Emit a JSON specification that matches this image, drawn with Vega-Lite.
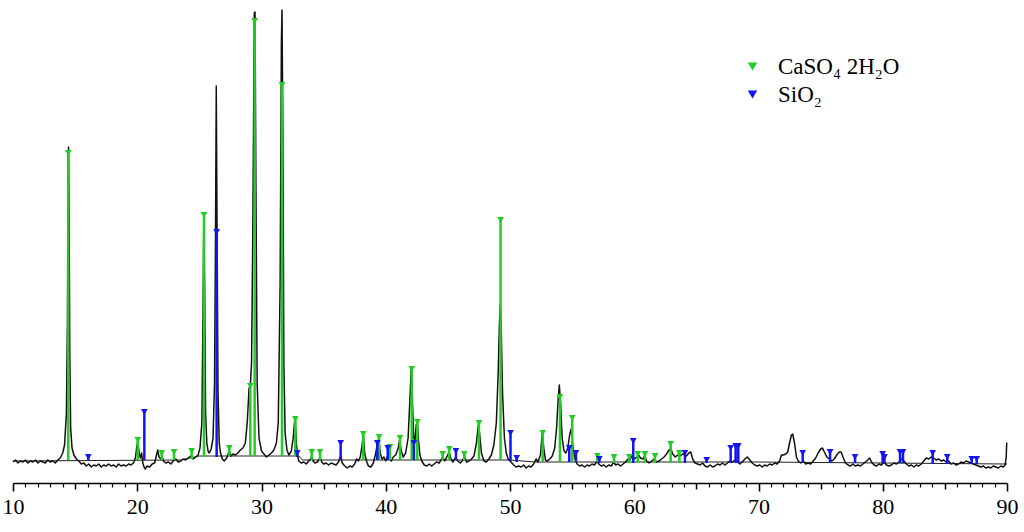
{
"$schema": "https://vega.github.io/schema/vega-lite/v6.json",
"width": 994,
"height": 483,
"autosize": {"type": "none"},
"padding": {"left": 13, "right": 17, "top": 0, "bottom": 49},
"background": "white",
"config": {"view": {"stroke": null}, "font": "Liberation Serif"},
"resolve": {"axis": {"x": "independent"}},
"datasets": {
"bg": [{"t":10,"i":22},{"t":23.5,"i":23},{"t":25,"i":27},{"t":33,"i":27},{"t":33.3,"i":23},{"t":50,"i":23},{"t":52,"i":21},{"t":60,"i":21},{"t":70,"i":21},{"t":80,"i":20},{"t":90,"i":19}],
"xrd": [
{"t":10.0,"i":21},{"t":10.2,"i":23},{"t":10.4,"i":20},{"t":10.6,"i":22},{"t":10.8,"i":21},{"t":11.0,"i":23},{"t":11.2,"i":20},{"t":11.4,"i":22},{"t":11.6,"i":21},{"t":11.8,"i":23},{"t":12.0,"i":20},{"t":12.2,"i":22},{"t":12.4,"i":21},{"t":12.6,"i":20},{"t":12.8,"i":23},{"t":13.0,"i":21},{"t":13.2,"i":22},{"t":13.4,"i":20},{"t":13.6,"i":23},{"t":13.8,"i":25},{"t":14.0,"i":30},{"t":14.15,"i":38},{"t":14.3,"i":70},{"t":14.38,"i":160},{"t":14.43,"i":300},{"t":14.47,"i":336},{"t":14.51,"i":280},{"t":14.57,"i":130},{"t":14.64,"i":55},{"t":14.75,"i":35},{"t":14.9,"i":28},{"t":15.1,"i":24},{"t":15.3,"i":22},{"t":15.5,"i":19},{"t":15.7,"i":20},{"t":15.9,"i":17},{"t":16.1,"i":19},{"t":16.3,"i":16},{"t":16.5,"i":18},{"t":16.7,"i":17},{"t":16.9,"i":19},{"t":17.1,"i":16},{"t":17.3,"i":18},{"t":17.5,"i":17},{"t":17.7,"i":19},{"t":17.9,"i":17},{"t":18.1,"i":18},{"t":18.3,"i":16},{"t":18.5,"i":19},{"t":18.7,"i":17},{"t":18.9,"i":18},{"t":19.1,"i":17},{"t":19.3,"i":19},{"t":19.5,"i":18},{"t":19.7,"i":20},{"t":19.85,"i":25},{"t":19.95,"i":35},{"t":20.05,"i":42},{"t":20.15,"i":30},{"t":20.25,"i":25},{"t":20.35,"i":30},{"t":20.45,"i":20},{"t":20.55,"i":16},{"t":20.65,"i":14},{"t":20.8,"i":17},{"t":21.0,"i":16},{"t":21.2,"i":19},{"t":21.4,"i":20},{"t":21.55,"i":28},{"t":21.65,"i":33},{"t":21.75,"i":26},{"t":21.9,"i":24},{"t":22.0,"i":27},{"t":22.1,"i":22},{"t":22.3,"i":20},{"t":22.5,"i":21},{"t":22.7,"i":19},{"t":22.9,"i":22},{"t":23.1,"i":24},{"t":23.3,"i":21},{"t":23.5,"i":22},{"t":23.7,"i":24},{"t":23.9,"i":23},{"t":24.1,"i":25},{"t":24.3,"i":27},{"t":24.5,"i":24},{"t":24.7,"i":26},{"t":24.9,"i":28},{"t":25.05,"i":35},{"t":25.2,"i":60},{"t":25.3,"i":180},{"t":25.36,"i":268},{"t":25.42,"i":200},{"t":25.5,"i":70},{"t":25.6,"i":40},{"t":25.7,"i":32},{"t":25.8,"i":30},{"t":25.95,"i":34},{"t":26.1,"i":45},{"t":26.22,"i":100},{"t":26.3,"i":250},{"t":26.36,"i":397},{"t":26.42,"i":260},{"t":26.5,"i":90},{"t":26.6,"i":40},{"t":26.7,"i":30},{"t":26.85,"i":24},{"t":27.0,"i":22},{"t":27.2,"i":25},{"t":27.4,"i":32},{"t":27.55,"i":27},{"t":27.7,"i":29},{"t":27.9,"i":28},{"t":28.1,"i":30},{"t":28.3,"i":33},{"t":28.5,"i":35},{"t":28.7,"i":40},{"t":28.85,"i":60},{"t":29.0,"i":95},{"t":29.1,"i":97},{"t":29.2,"i":120},{"t":29.3,"i":250},{"t":29.42,"i":470},{"t":29.48,"i":471},{"t":29.55,"i":300},{"t":29.65,"i":100},{"t":29.8,"i":45},{"t":30.0,"i":32},{"t":30.2,"i":29},{"t":30.4,"i":26},{"t":30.6,"i":28},{"t":30.8,"i":30},{"t":31.0,"i":33},{"t":31.2,"i":40},{"t":31.35,"i":60},{"t":31.5,"i":200},{"t":31.6,"i":440},{"t":31.65,"i":473},{"t":31.72,"i":350},{"t":31.8,"i":120},{"t":31.9,"i":50},{"t":32.05,"i":33},{"t":32.2,"i":28},{"t":32.4,"i":32},{"t":32.55,"i":45},{"t":32.65,"i":60},{"t":32.72,"i":64},{"t":32.8,"i":40},{"t":32.9,"i":28},{"t":33.0,"i":22},
{"t":33.2,"i":20},{"t":33.4,"i":21},{"t":33.6,"i":19},{"t":33.8,"i":22},{"t":33.95,"i":24},{"t":34.05,"i":27},{"t":34.15,"i":22},{"t":34.3,"i":20},{"t":34.5,"i":21},{"t":34.65,"i":24},{"t":34.72,"i":26},{"t":34.85,"i":21},{"t":35.0,"i":19},{"t":35.2,"i":20},{"t":35.4,"i":18},{"t":35.6,"i":20},{"t":35.8,"i":19},{"t":36.0,"i":18},{"t":36.2,"i":21},{"t":36.37,"i":27},{"t":36.5,"i":20},{"t":36.7,"i":17},{"t":36.9,"i":15},{"t":37.1,"i":17},{"t":37.3,"i":16},{"t":37.5,"i":19},{"t":37.65,"i":24},{"t":37.8,"i":22},{"t":37.95,"i":26},{"t":38.1,"i":38},{"t":38.19,"i":50},{"t":38.3,"i":30},{"t":38.45,"i":22},{"t":38.6,"i":17},{"t":38.8,"i":16},{"t":39.0,"i":20},{"t":39.2,"i":30},{"t":39.35,"i":42},{"t":39.45,"i":44},{"t":39.55,"i":30},{"t":39.7,"i":24},{"t":39.85,"i":26},{"t":40.0,"i":22},{"t":40.15,"i":27},{"t":40.3,"i":24},{"t":40.45,"i":22},{"t":40.6,"i":26},{"t":40.8,"i":28},{"t":41.0,"i":35},{"t":41.12,"i":43},{"t":41.25,"i":32},{"t":41.4,"i":26},{"t":41.6,"i":30},{"t":41.8,"i":45},{"t":41.95,"i":85},{"t":42.05,"i":115},{"t":42.15,"i":80},{"t":42.25,"i":45},{"t":42.35,"i":42},{"t":42.45,"i":58},{"t":42.54,"i":61},{"t":42.62,"i":45},{"t":42.75,"i":28},{"t":42.9,"i":22},{"t":43.1,"i":18},{"t":43.3,"i":17},{"t":43.5,"i":19},{"t":43.7,"i":17},{"t":43.9,"i":19},{"t":44.1,"i":21},{"t":44.3,"i":20},{"t":44.5,"i":24},{"t":44.6,"i":26},{"t":44.75,"i":22},{"t":44.95,"i":27},{"t":45.1,"i":31},{"t":45.25,"i":24},{"t":45.4,"i":21},{"t":45.6,"i":25},{"t":45.8,"i":22},{"t":46.0,"i":20},{"t":46.2,"i":23},{"t":46.35,"i":26},{"t":46.5,"i":21},{"t":46.7,"i":22},{"t":46.9,"i":24},{"t":47.1,"i":27},{"t":47.3,"i":40},{"t":47.45,"i":58},{"t":47.55,"i":50},{"t":47.7,"i":30},{"t":47.9,"i":22},{"t":48.1,"i":21},{"t":48.3,"i":24},{"t":48.5,"i":28},{"t":48.7,"i":38},{"t":48.9,"i":60},{"t":49.05,"i":110},{"t":49.15,"i":160},{"t":49.22,"i":178},{"t":49.3,"i":150},{"t":49.4,"i":90},{"t":49.55,"i":45},{"t":49.7,"i":30},{"t":49.85,"i":24},{"t":50.0,"i":22},{"t":50.15,"i":20},{"t":50.3,"i":18},{"t":50.5,"i":16},
{"t":50.7,"i":17},{"t":50.9,"i":16},{"t":51.1,"i":18},{"t":51.3,"i":15},{"t":51.5,"i":17},{"t":51.7,"i":16},{"t":51.9,"i":19},{"t":52.1,"i":24},{"t":52.25,"i":21},{"t":52.45,"i":28},{"t":52.6,"i":50},{"t":52.72,"i":35},{"t":52.85,"i":23},{"t":53.0,"i":22},{"t":53.2,"i":24},{"t":53.4,"i":27},{"t":53.6,"i":35},{"t":53.75,"i":55},{"t":53.88,"i":85},{"t":53.97,"i":98},{"t":54.07,"i":80},{"t":54.2,"i":45},{"t":54.35,"i":32},{"t":54.5,"i":30},{"t":54.65,"i":35},{"t":54.8,"i":48},{"t":54.92,"i":54},{"t":55.05,"i":38},{"t":55.2,"i":25},{"t":55.4,"i":19},{"t":55.6,"i":17},{"t":55.8,"i":18},{"t":56.0,"i":16},{"t":56.2,"i":18},{"t":56.4,"i":17},{"t":56.6,"i":19},{"t":56.8,"i":18},{"t":57.0,"i":22},{"t":57.15,"i":19},{"t":57.35,"i":17},{"t":57.55,"i":18},{"t":57.75,"i":16},{"t":57.95,"i":18},{"t":58.15,"i":17},{"t":58.35,"i":21},{"t":58.5,"i":18},{"t":58.7,"i":19},{"t":58.9,"i":17},{"t":59.1,"i":19},{"t":59.3,"i":21},{"t":59.5,"i":24},{"t":59.65,"i":23},{"t":59.85,"i":28},{"t":60.0,"i":24},{"t":60.2,"i":26},{"t":60.35,"i":28},{"t":60.5,"i":25},{"t":60.7,"i":24},{"t":60.85,"i":27},{"t":61.0,"i":22},{"t":61.2,"i":20},{"t":61.4,"i":22},{"t":61.6,"i":24},{"t":61.8,"i":21},{"t":62.0,"i":22},{"t":62.2,"i":24},{"t":62.4,"i":26},{"t":62.6,"i":29},{"t":62.8,"i":33},{"t":62.95,"i":34},{"t":63.1,"i":29},{"t":63.3,"i":26},{"t":63.5,"i":28},{"t":63.7,"i":27},{"t":63.9,"i":29},{"t":64.05,"i":28},{"t":64.2,"i":27},{"t":64.4,"i":30},{"t":64.55,"i":31},{"t":64.7,"i":24},{"t":64.9,"i":20},{"t":65.1,"i":19},{"t":65.3,"i":18},{"t":65.5,"i":20},{"t":65.7,"i":17},{"t":65.9,"i":16},{"t":66.1,"i":18},{"t":66.3,"i":16},{"t":66.5,"i":17},{"t":66.7,"i":19},{"t":66.9,"i":18},{"t":67.1,"i":20},{"t":67.3,"i":18},{"t":67.5,"i":20},{"t":67.7,"i":22},{"t":67.9,"i":21},{"t":68.1,"i":23},{"t":68.3,"i":21},{"t":68.5,"i":19},{"t":68.7,"i":21},{"t":68.9,"i":24},{"t":69.1,"i":26},{"t":69.3,"i":23},{"t":69.5,"i":20},{"t":69.7,"i":18},{"t":69.9,"i":17},{"t":70.1,"i":18},{"t":70.3,"i":16},{"t":70.5,"i":18},{"t":70.7,"i":17},{"t":70.9,"i":19},{"t":71.1,"i":18},{"t":71.3,"i":20},{"t":71.5,"i":19},{"t":71.7,"i":22},{"t":71.85,"i":28},{"t":72.0,"i":28},{"t":72.2,"i":29},{"t":72.35,"i":31},{"t":72.5,"i":40},{"t":72.65,"i":48},{"t":72.75,"i":49},{"t":72.9,"i":40},{"t":73.05,"i":26},{"t":73.2,"i":22},{"t":73.4,"i":20},{"t":73.6,"i":22},{"t":73.8,"i":19},{"t":74.0,"i":20},{"t":74.2,"i":19},{"t":74.4,"i":22},{"t":74.6,"i":25},{"t":74.8,"i":30},{"t":75.0,"i":34},{"t":75.15,"i":35},{"t":75.3,"i":31},{"t":75.5,"i":26},{"t":75.7,"i":24},{"t":75.9,"i":22},{"t":76.1,"i":24},{"t":76.3,"i":28},{"t":76.5,"i":31},{"t":76.65,"i":31},{"t":76.8,"i":26},{"t":77.0,"i":20},{"t":77.2,"i":18},{"t":77.4,"i":17},{"t":77.6,"i":19},{"t":77.8,"i":17},{"t":78.0,"i":18},{"t":78.2,"i":17},{"t":78.4,"i":19},{"t":78.6,"i":21},{"t":78.8,"i":23},{"t":78.95,"i":25},{"t":79.1,"i":21},{"t":79.3,"i":18},{"t":79.5,"i":17},{"t":79.7,"i":19},{"t":79.9,"i":18},{"t":80.1,"i":21},{"t":80.3,"i":18},{"t":80.5,"i":17},{"t":80.7,"i":18},{"t":80.9,"i":20},{"t":81.1,"i":19},{"t":81.3,"i":21},{"t":81.5,"i":24},{"t":81.7,"i":22},{"t":81.9,"i":19},{"t":82.1,"i":17},{"t":82.3,"i":18},{"t":82.5,"i":16},{"t":82.7,"i":18},{"t":82.9,"i":17},{"t":83.1,"i":19},{"t":83.3,"i":22},{"t":83.5,"i":25},{"t":83.7,"i":24},{"t":83.9,"i":26},{"t":84.1,"i":25},{"t":84.3,"i":23},{"t":84.5,"i":24},{"t":84.7,"i":22},{"t":84.9,"i":23},{"t":85.1,"i":21},{"t":85.3,"i":22},{"t":85.5,"i":19},{"t":85.7,"i":20},{"t":85.9,"i":18},{"t":86.1,"i":19},{"t":86.3,"i":21},{"t":86.5,"i":20},{"t":86.7,"i":22},{"t":86.9,"i":21},{"t":87.1,"i":20},{"t":87.3,"i":19},{"t":87.5,"i":18},{"t":87.7,"i":17},{"t":87.9,"i":16},{"t":88.1,"i":17},{"t":88.3,"i":15},{"t":88.5,"i":16},{"t":88.7,"i":15},{"t":88.9,"i":17},{"t":89.1,"i":16},{"t":89.3,"i":15},{"t":89.5,"i":17},{"t":89.7,"i":16},{"t":89.85,"i":18},{"t":89.93,"i":25},{"t":89.98,"i":40},{"t":90.0,"i":40}
],
"sticks": [
{"t":14.45,"i":330,"base":23,"phase":"CaSO₄ 2H₂O"},{"t":20.04,"i":43,"base":23,"phase":"CaSO₄ 2H₂O"},{"t":21.97,"i":30,"base":23,"phase":"CaSO₄ 2H₂O"},{"t":22.96,"i":31,"base":23,"phase":"CaSO₄ 2H₂O"},{"t":24.38,"i":32,"base":24,"phase":"CaSO₄ 2H₂O"},{"t":25.37,"i":268,"base":26,"phase":"CaSO₄ 2H₂O"},{"t":27.41,"i":35,"base":27,"phase":"CaSO₄ 2H₂O"},{"t":29.10,"i":97,"base":27,"phase":"CaSO₄ 2H₂O"},{"t":29.45,"i":462,"base":27,"phase":"CaSO₄ 2H₂O"},{"t":31.65,"i":398,"base":27,"phase":"CaSO₄ 2H₂O"},{"t":32.72,"i":64,"base":27,"phase":"CaSO₄ 2H₂O"},{"t":34.04,"i":31,"base":23,"phase":"CaSO₄ 2H₂O"},{"t":34.71,"i":31,"base":23,"phase":"CaSO₄ 2H₂O"},{"t":38.19,"i":49,"base":23,"phase":"CaSO₄ 2H₂O"},{"t":39.46,"i":46,"base":23,"phase":"CaSO₄ 2H₂O"},{"t":40.34,"i":36,"base":23,"phase":"CaSO₄ 2H₂O"},{"t":41.15,"i":45,"base":23,"phase":"CaSO₄ 2H₂O"},{"t":42.09,"i":114,"base":23,"phase":"CaSO₄ 2H₂O"},{"t":42.54,"i":61,"base":23,"phase":"CaSO₄ 2H₂O"},{"t":44.58,"i":29,"base":23,"phase":"CaSO₄ 2H₂O"},{"t":45.11,"i":34,"base":23,"phase":"CaSO₄ 2H₂O"},{"t":46.32,"i":29,"base":23,"phase":"CaSO₄ 2H₂O"},{"t":47.50,"i":60,"base":23,"phase":"CaSO₄ 2H₂O"},{"t":49.24,"i":263,"base":23,"phase":"CaSO₄ 2H₂O"},{"t":52.63,"i":50,"base":21,"phase":"CaSO₄ 2H₂O"},{"t":54.02,"i":86,"base":21,"phase":"CaSO₄ 2H₂O"},{"t":55.01,"i":65,"base":21,"phase":"CaSO₄ 2H₂O"},{"t":57.03,"i":27,"base":21,"phase":"CaSO₄ 2H₂O"},{"t":58.37,"i":26,"base":20,"phase":"CaSO₄ 2H₂O"},{"t":59.60,"i":26,"base":20,"phase":"CaSO₄ 2H₂O"},{"t":60.28,"i":29,"base":20,"phase":"CaSO₄ 2H₂O"},{"t":60.86,"i":29,"base":20,"phase":"CaSO₄ 2H₂O"},{"t":61.67,"i":27,"base":20,"phase":"CaSO₄ 2H₂O"},{"t":62.93,"i":39,"base":20,"phase":"CaSO₄ 2H₂O"},{"t":63.63,"i":30,"base":20,"phase":"CaSO₄ 2H₂O"},
{"t":16.06,"i":26,"base":22,"phase":"SiO₂"},{"t":20.57,"i":71,"base":23,"phase":"SiO₂"},{"t":26.39,"i":251,"base":26,"phase":"SiO₂"},{"t":32.88,"i":30,"base":26,"phase":"SiO₂"},{"t":36.37,"i":40,"base":23,"phase":"SiO₂"},{"t":39.32,"i":40,"base":23,"phase":"SiO₂"},{"t":40.16,"i":35,"base":23,"phase":"SiO₂"},{"t":42.27,"i":40,"base":23,"phase":"SiO₂"},{"t":45.65,"i":32,"base":23,"phase":"SiO₂"},{"t":50.04,"i":50,"base":22,"phase":"SiO₂"},{"t":50.54,"i":25,"base":21,"phase":"SiO₂"},{"t":54.77,"i":35,"base":21,"phase":"SiO₂"},{"t":55.31,"i":30,"base":21,"phase":"SiO₂"},{"t":57.19,"i":24,"base":20,"phase":"SiO₂"},{"t":59.92,"i":42,"base":20,"phase":"SiO₂"},{"t":64.08,"i":30,"base":20,"phase":"SiO₂"},{"t":65.83,"i":23,"base":20,"phase":"SiO₂"},{"t":67.76,"i":35,"base":20,"phase":"SiO₂"},{"t":68.16,"i":37,"base":20,"phase":"SiO₂"},{"t":68.37,"i":37,"base":20,"phase":"SiO₂"},{"t":73.56,"i":30,"base":20,"phase":"SiO₂"},{"t":75.76,"i":31,"base":20,"phase":"SiO₂"},{"t":77.77,"i":26,"base":20,"phase":"SiO₂"},{"t":79.99,"i":29,"base":20,"phase":"SiO₂"},{"t":80.14,"i":26,"base":20,"phase":"SiO₂"},{"t":81.39,"i":31,"base":20,"phase":"SiO₂"},{"t":81.63,"i":31,"base":20,"phase":"SiO₂"},{"t":84.02,"i":30,"base":19,"phase":"SiO₂"},{"t":85.19,"i":26,"base":19,"phase":"SiO₂"},{"t":87.16,"i":24,"base":19,"phase":"SiO₂"},{"t":87.56,"i":24,"base":19,"phase":"SiO₂"}
]
},
"layer": [
{
"data": {"name": "bg"},
"mark": {"type": "line", "color": "#222222", "strokeWidth": 1},
"encoding": {
"x": {"field": "t", "type": "quantitative", "title": null,
"scale": {"domain": [10, 90], "nice": false, "zero": false},
"axis": {"title": null, "grid": false, "orient": "bottom",
"values": [10,20,30,40,50,60,70,80,90],
"labelOverlap": false, "labelFlush": false, "labelBound": false,
"tickSize": 8, "tickWidth": 1.6,
"tickColor": "#000000", "domainColor": "#000000", "domainWidth": 1.5,
"labelColor": "#000000", "labelFont": "Liberation Serif", "labelFontSize": 22, "labelPadding": 5}},
"y": {"field": "i", "type": "quantitative", "scale": {"domain": [0, 483], "nice": false}, "axis": null}
}
},
{
"data": {"name": "xrd"},
"mark": {"type": "line", "color": "#111111", "strokeWidth": 1.5, "strokeJoin": "round"},
"encoding": {
"x": {"field": "t", "type": "quantitative", "title": null,
"axis": {"title": null, "grid": false, "orient": "bottom", "labels": false, "domain": false,
"values": [11,12,13,14,15,16,17,18,19,21,22,23,24,25,26,27,28,29,31,32,33,34,35,36,37,38,39,41,42,43,44,45,46,47,48,49,51,52,53,54,55,56,57,58,59,61,62,63,64,65,66,67,68,69,71,72,73,74,75,76,77,78,79,81,82,83,84,85,86,87,88,89],
"tickSize": {"condition": {"test": "datum.value % 5 === 0", "value": 6}, "value": 4},
"tickWidth": {"condition": {"test": "datum.value % 5 === 0", "value": 1.5}, "value": 1.2},
"tickColor": "#000000"}},
"y": {"field": "i", "type": "quantitative"}
}
},
{
"data": {"name": "sticks"},
"mark": {"type": "rule", "strokeWidth": 2.5},
"encoding": {
"x": {"field": "t", "type": "quantitative", "title": null, "axis": null},
"y": {"field": "base", "type": "quantitative"},
"y2": {"field": "i"},
"color": {"field": "phase", "type": "nominal", "scale": {"domain": ["CaSO₄ 2H₂O", "SiO₂"], "range": ["#22cc22", "#1414f0"]},
"legend": {"title": null, "orient": "none", "legendX": 728, "legendY": 55, "symbolType": "triangle-down", "symbolSize": 90, "labelFont": "Liberation Serif", "labelFontSize": 23, "labelColor": "#000000", "labelOffset": 14, "rowPadding": 4, "symbolStrokeWidth": 0}}
}
},
{
"data": {"name": "sticks"},
"mark": {"type": "point", "shape": "triangle-down", "filled": true, "size": 45, "opacity": 1},
"encoding": {
"x": {"field": "t", "type": "quantitative", "title": null, "axis": null},
"y": {"field": "i", "type": "quantitative"},
"color": {"field": "phase", "type": "nominal"}
}
}
]
}
